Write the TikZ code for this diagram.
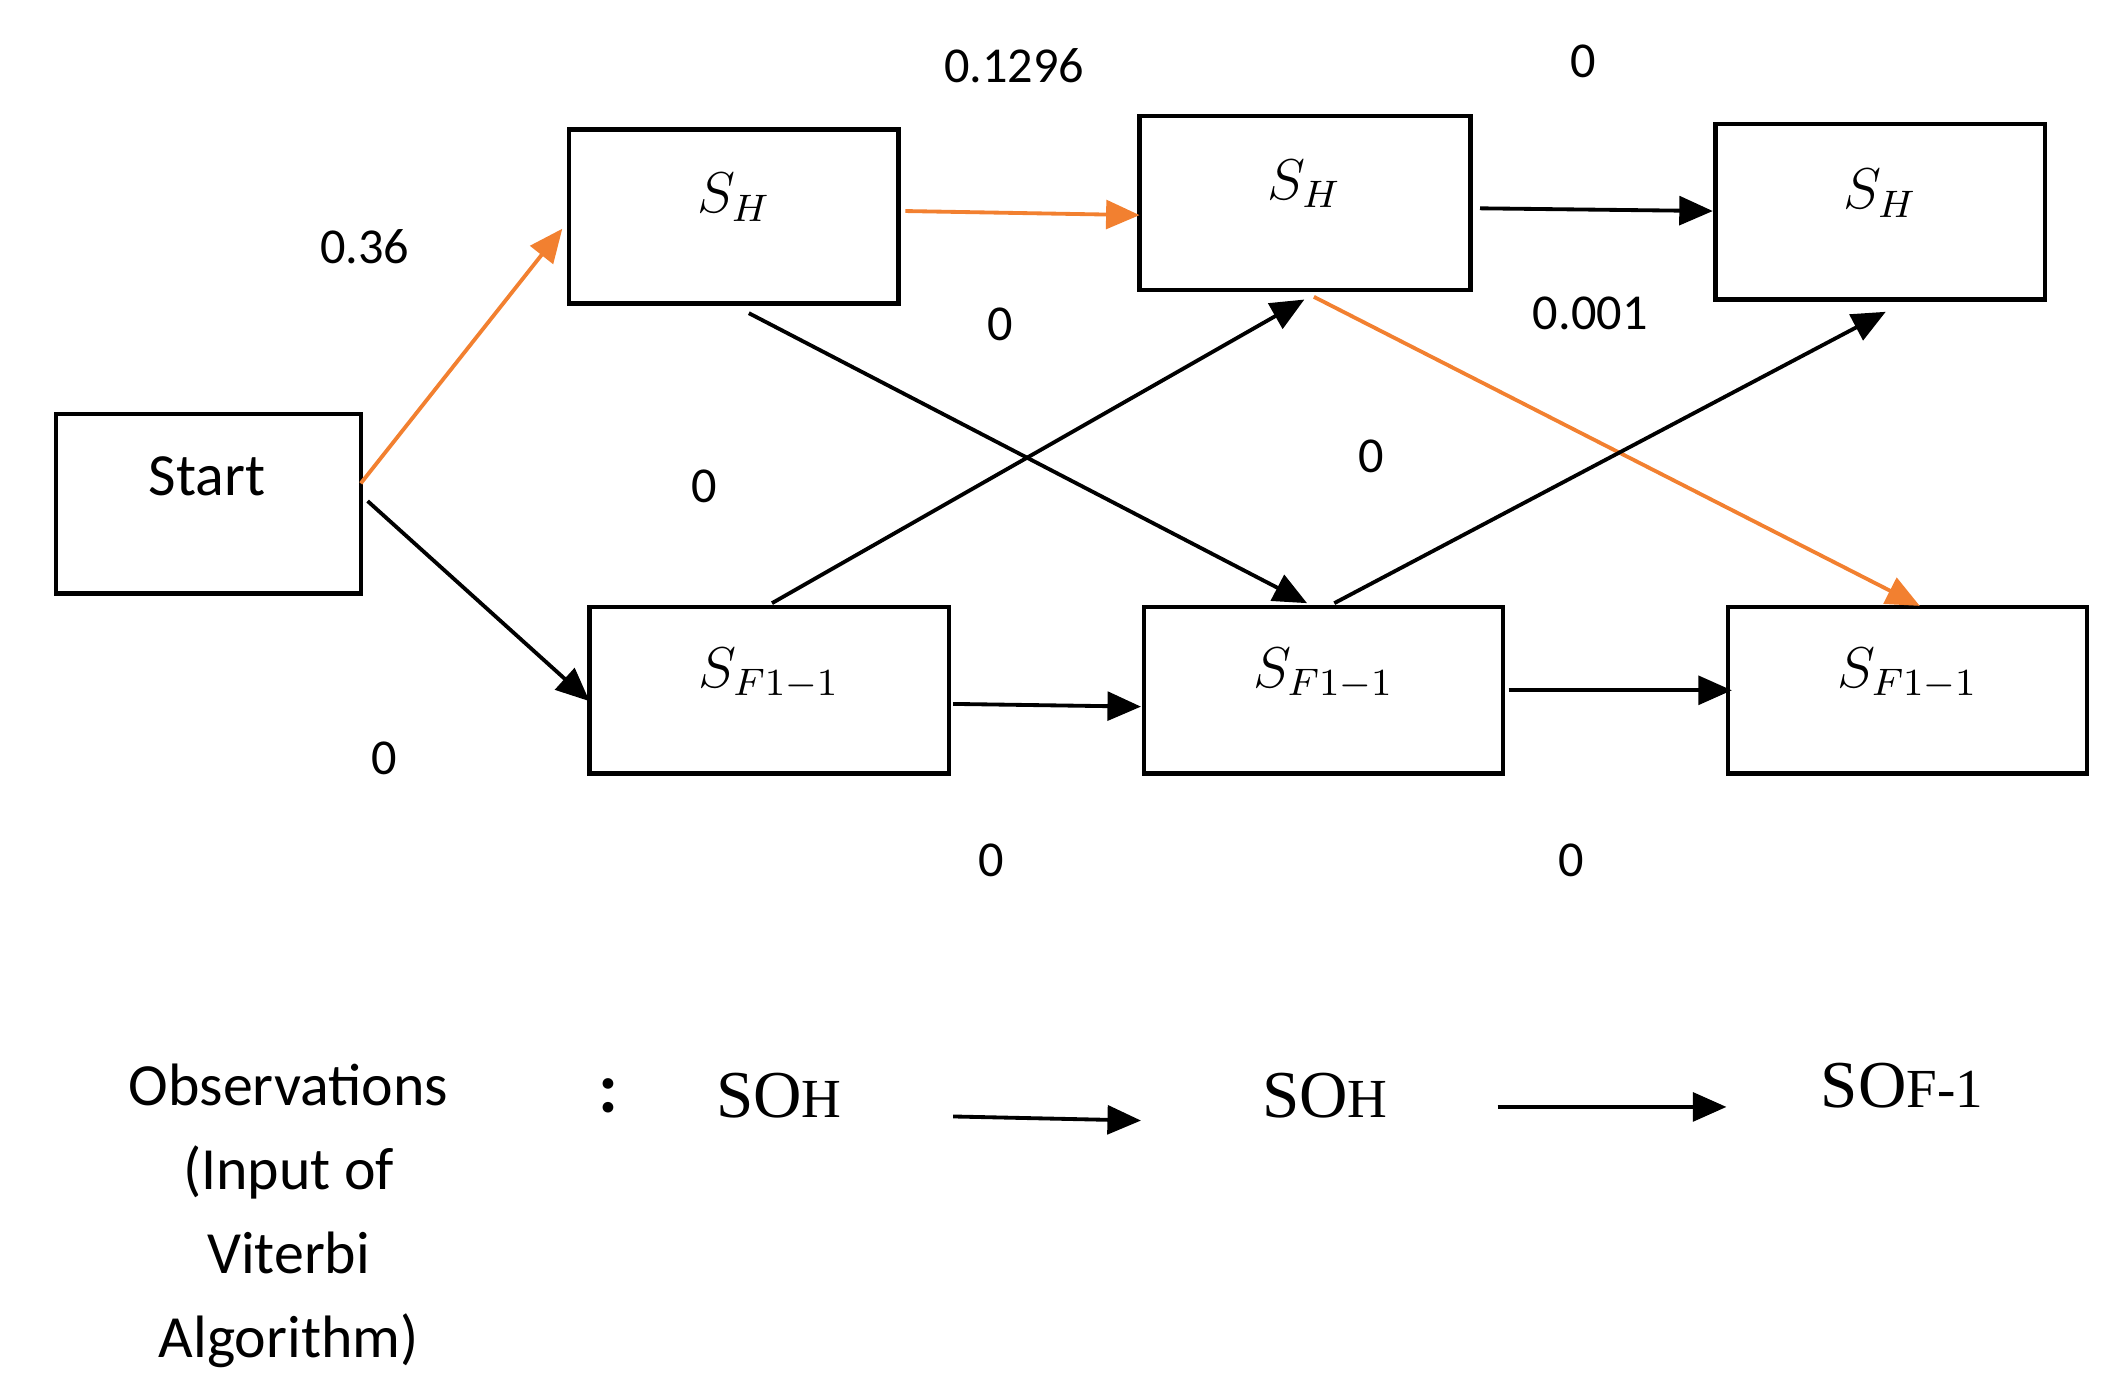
\documentclass[tikz,border=0pt]{standalone}
\usepackage{fontspec}
\setmainfont{Carlito}
\newfontfamily\serif{Liberation Serif}
\usetikzlibrary{arrows.meta}
\begin{document}
\begin{tikzpicture}[x=0.01cm,y=-0.01cm,
 box/.style={draw,line width=0.9pt,inner sep=0pt},
 lab/.style={font=\fontsize{10.5}{12}\selectfont},
 arr/.style={line width=0.8pt,-{Triangle[length=7pt,width=6pt]}},
 org/.style={arr,draw={rgb,255:red,242;green,128;blue,48},fill={rgb,255:red,242;green,128;blue,48}}]
\useasboundingbox (0,0) rectangle (1560,1024);
\draw[box] (41,304) rectangle (265,436); \node (start) at (152,350) {\fontsize{12.5}{15}\selectfont Start};
\draw[box] (418,95) rectangle (660,223); \node (h1) at (539,145) {\large $S_H$};
\draw[box] (837,85) rectangle (1080,213); \node (h2) at (958,135) {\large $S_H$};
\draw[box] (1260,91) rectangle (1502,220); \node (h3) at (1381,142) {\large $S_H$};
\draw[box] (433,446) rectangle (697,568); \node (f1) at (565,495) {\large $S_{F1-1}$};
\draw[box] (840,446) rectangle (1104,568); \node (f2) at (972,495) {\large $S_{F1-1}$};
\draw[box] (1269,446) rectangle (1533,568); \node (f3) at (1401,495) {\large $S_{F1-1}$};
\coordinate (a1) at (265,355); \coordinate (a2) at (413,168);
\coordinate (b1) at (270,368); \coordinate (b2) at (433,515);
\coordinate (c1) at (665,155); \coordinate (c2) at (837,158);
\coordinate (d1) at (550,230); \coordinate (d2) at (960,443);
\coordinate (e1) at (567,443); \coordinate (e2) at (958,220);
\coordinate (g1) at (965,218); \coordinate (g2) at (1410,445);
\coordinate (i1) at (700,517); \coordinate (i2) at (838,519);
\coordinate (j1) at (980,443); \coordinate (j2) at (1385,229);
\coordinate (k1) at (1087,153); \coordinate (k2) at (1258,155);
\coordinate (l1) at (1108,507); \coordinate (l2) at (1272,507);
\coordinate (m1) at (700,820); \coordinate (m2) at (838,823);
\coordinate (n1) at (1100,813); \coordinate (n2) at (1268,813);
\draw[org] (a1) -- (a2);
\draw[arr] (b1) -- (b2);
\draw[org] (c1) -- (c2);
\draw[arr] (d1) -- (d2);
\draw[arr] (e1) -- (e2);
\draw[org] (g1) -- (g2);
\draw[arr] (i1) -- (i2);
\draw[arr] (j1) -- (j2);
\draw[arr] (k1) -- (k2);
\draw[arr] (l1) -- (l2);
\draw[arr] (m1) -- (m2);
\draw[arr] (n1) -- (n2);
\node[lab] (t1) at (745,48) {0.1296};
\node[lab] (t2) at (1163,45) {0};
\node[lab] (t3) at (268,181) {0.36};
\node[lab] (t4) at (735,238) {0};
\node[lab] (t5) at (1168,230) {0.001};
\node[lab] (t6) at (1007,335) {0};
\node[lab] (t7) at (517,357) {0};
\node[lab] (t8) at (282,557) {0};
\node[lab] (t9) at (728,632) {0};
\node[lab] (t10) at (1154,632) {0};
\node[align=center,font=\fontsize{12.5}{17.6}\selectfont] (obs) at (212,893) {Observations\\(Input of\\Viterbi\\Algorithm)};
\node[font=\fontsize{15}{18}\selectfont\bfseries] (col) at (447,805) {:};
\node[font=\serif\fontsize{14}{18}\selectfont] (o1) at (572,805) {SO\fontsize{11.5}{15}\selectfont H};
\node[font=\serif\fontsize{14}{18}\selectfont] (o2) at (973,805) {SO\fontsize{11.5}{15}\selectfont H};
\node[font=\serif\fontsize{14}{18}\selectfont] (o3) at (1397,797) {SO\fontsize{11.5}{15}\selectfont F-1};
\end{tikzpicture}
\end{document}
